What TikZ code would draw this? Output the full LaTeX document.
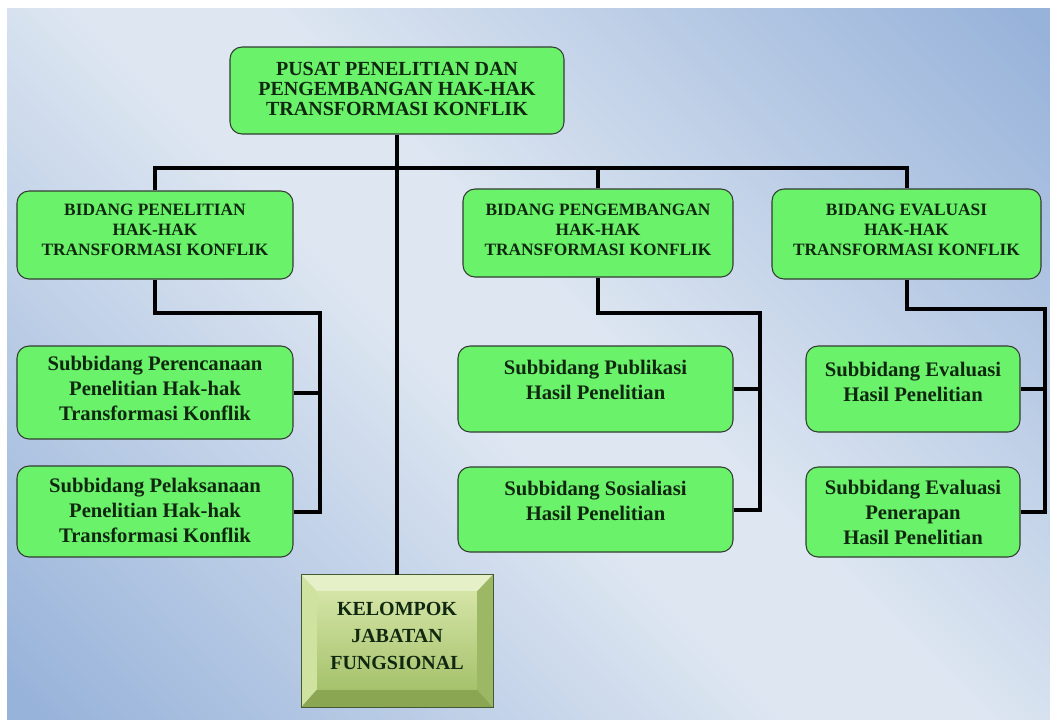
\documentclass[tikz,border=0pt]{standalone}
\usepackage{fontspec}
\setmainfont{Liberation Serif}
\usetikzlibrary{calc}
\definecolor{bglight}{RGB}{221,230,241}
\definecolor{bgblue}{RGB}{152,179,218}
\definecolor{boxgreen}{RGB}{106,242,106}
\definecolor{boxline}{RGB}{50,60,50}
\definecolor{txt}{RGB}{16,40,16}
\definecolor{kelline}{RGB}{70,90,50}
\definecolor{bevtop}{RGB}{230,240,200}
\definecolor{bevleft}{RGB}{208,226,160}
\definecolor{bevright}{RGB}{156,184,100}
\definecolor{bevbot}{RGB}{138,166,82}
\definecolor{facetop}{RGB}{212,228,166}
\definecolor{facebot}{RGB}{166,194,108}
\pgfdeclarehorizontalshading{diagbg}{100bp}{color(0bp)=(bgblue); color(16bp)=(bgblue); color(46bp)=(bglight); color(54bp)=(bglight); color(84bp)=(bgblue); color(100bp)=(bgblue)}
\tikzset{
  gbox/.style={draw=boxline, line width=0.8pt, fill=boxgreen, rounded corners=9pt, inner sep=0pt},
  capsA/.style={text=txt, align=center, inner sep=0pt, font=\bfseries\fontsize{15}{15}\selectfont},
  capsB/.style={text=txt, align=center, inner sep=0pt, font=\bfseries\fontsize{13}{15}\selectfont},
  subt/.style={text=txt, align=center, inner sep=0pt, font=\bfseries\fontsize{15.5}{18.75}\selectfont},
  kelt/.style={text=txt, align=center, inner sep=0pt, font=\bfseries\fontsize{15}{20}\selectfont},
  conn/.style={line width=3pt, draw=black, line join=miter},
}
\begin{document}
\begin{tikzpicture}[x=0.75pt, y=-0.75pt]
\useasboundingbox (0,0) rectangle (1050,719);
\fill[white] (0,0) rectangle (1050,719);
\shade[shading=diagbg, shading angle=45] (7,8) rectangle (1050,719);

% boxes
\node[gbox, minimum width=250.5pt, minimum height=65.25pt] (top) at (397,90.5) {};
\node[gbox, minimum width=207pt, minimum height=66pt] (bP) at (155,235) {};
\node[gbox, minimum width=202.5pt, minimum height=66pt] (bG) at (598,233) {};
\node[gbox, minimum width=201.75pt, minimum height=67.5pt] (bE) at (906.5,234) {};
\node[gbox, minimum width=207pt, minimum height=69.75pt] (sP1) at (155,392.5) {};
\node[gbox, minimum width=207pt, minimum height=68.25pt] (sP2) at (155,511.5) {};
\node[gbox, minimum width=206.25pt, minimum height=64.5pt] (sG1) at (595.5,389) {};
\node[gbox, minimum width=206.25pt, minimum height=63.75pt] (sG2) at (595.5,509.5) {};
\node[gbox, minimum width=160.5pt, minimum height=64.5pt] (sE1) at (913,389) {};
\node[gbox, minimum width=160.5pt, minimum height=67.5pt] (sE2) at (913,512) {};

% kelompok bevel box
\node[draw=kelline, line width=0.6pt, minimum width=143.25pt, minimum height=99pt, inner sep=0pt] (kel) at (397,641) {};
\coordinate (iNW) at ($(kel.north west)+(16,17)$);
\coordinate (iNE) at ($(kel.north east)+(-16,17)$);
\coordinate (iSW) at ($(kel.south west)+(16,-18)$);
\coordinate (iSE) at ($(kel.south east)+(-16,-18)$);
\fill[bevtop] (kel.north west) -- (kel.north east) -- (iNE) -- (iNW) -- cycle;
\fill[bevleft] (kel.north west) -- (iNW) -- (iSW) -- (kel.south west) -- cycle;
\fill[bevright] (kel.north east) -- (kel.south east) -- (iSE) -- (iNE) -- cycle;
\fill[bevbot] (kel.south west) -- (iSW) -- (iSE) -- (kel.south east) -- cycle;
\shade[top color=facetop, bottom color=facebot] (iNW) rectangle (iSE);
\draw[kelline, line width=0.6pt] (kel.north west) rectangle (kel.south east);

% texts
\node[capsA] (ttop) at (397,89) {PUSAT PENELITIAN DAN\\PENGEMBANGAN HAK-HAK\\TRANSFORMASI KONFLIK};
\node[capsB] (tbP) at (155,230) {BIDANG PENELITIAN\\HAK-HAK\\TRANSFORMASI KONFLIK};
\node[capsB] (tbG) at (598,230) {BIDANG PENGEMBANGAN\\HAK-HAK\\TRANSFORMASI KONFLIK};
\node[capsB] (tbE) at (906.5,230) {BIDANG EVALUASI\\HAK-HAK\\TRANSFORMASI KONFLIK};
\node[subt] (tsP1) at (155,388) {Subbidang Perencanaan\\Penelitian Hak-hak\\Transformasi Konflik};
\node[subt] (tsP2) at (155,510) {Subbidang Pelaksanaan\\Penelitian Hak-hak\\Transformasi Konflik};
\node[subt] (tsG1) at (595.5,380) {Subbidang Publikasi\\Hasil Penelitian};
\node[subt] (tsG2) at (595.5,501) {Subbidang Sosialiasi\\Hasil Penelitian};
\node[subt] (tsE1) at (913,382) {Subbidang Evaluasi\\Hasil Penelitian};
\node[subt] (tsE2) at (913,512) {Subbidang Evaluasi\\Penerapan\\Hasil Penelitian};
\node[kelt] (tkel) at (397,636) {KELOMPOK\\JABATAN\\FUNGSIONAL};

% connectors
\coordinate (barY) at (0,168);
\coordinate (pTurn) at (0,313);
\coordinate (eTurn) at (0,309);
\coordinate (xP) at (320,0);
\coordinate (xG) at (760,0);
\coordinate (xE) at (1045,0);
\draw[conn] (top.south) -- (kel.north);
\draw[conn] (bP.north) -- (bP.north |- barY) -- (bE.north |- barY) -- (bE.north);
\draw[conn] (bG.north) -- (bG.north |- barY);

\draw[conn] (bP.south) -- (bP.south |- pTurn) -- (xP |- pTurn) -- (xP |- sP2.east) -- (sP2.east);
\draw[conn] (sP1.east) -- (xP |- sP1.east);
\draw[conn] (bG.south) -- (bG.south |- pTurn) -- (xG |- pTurn) -- (xG |- sG2.east) -- (sG2.east);
\draw[conn] (sG1.east) -- (xG |- sG1.east);
\draw[conn] (bE.south) -- (bE.south |- eTurn) -- (xE |- eTurn) -- (xE |- sE2.east) -- (sE2.east);
\draw[conn] (sE1.east) -- (xE |- sE1.east);
\end{tikzpicture}
\end{document}
